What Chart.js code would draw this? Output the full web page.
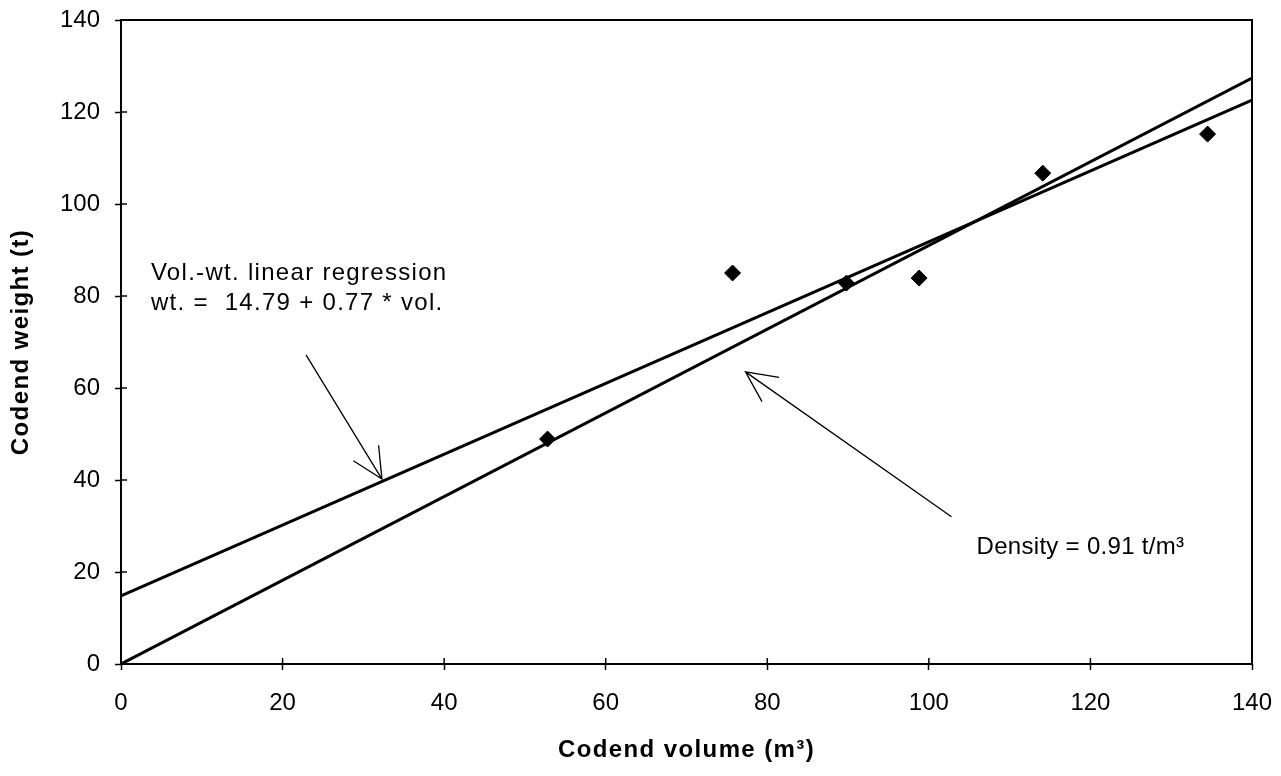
<!DOCTYPE html>
<html>
<head>
<meta charset="utf-8">
<script src="https://cdn.jsdelivr.net/npm/chart.js@4"></script>
<style>
  body { margin: 0; background: #fff; }
  canvas { display: block; }
</style>
</head>
<body>
<canvas id="chart" width="1281" height="776"></canvas>
<script>
// observed hauls
const volumes = [52.8, 75.7, 89.8, 98.8, 114.1, 134.5];
const weights = [48.9, 85.0, 82.8, 83.9, 106.7, 115.2];

// fitted lines (end points)
const regressionX = [0, 140];
const regressionY = [14.79, 122.6];
const densityX = [0, 140];
const densityY = [0, 127.4];

const tickValues = [0, 20, 40, 60, 80, 100, 120, 140];

const FONT = '"Liberation Sans", Arial, sans-serif';

function toPoints(xs, ys) {
    return xs.map((x, i) => ({ x: x, y: ys[i] }));
}

// text + arrows, in data units
const notes = {
    texts: [
        { x: 3.7, y: 85.0, text: 'Vol.-wt. linear regression', spacing: '1.3px' },
        { x: 3.7, y: 78.4, text: 'wt. =  14.79 + 0.77 * vol.', spacing: '1.3px' },
        { x: 105.9, y: 25.4, text: 'Density = 0.91 t/m³', spacing: '0.3px' }
    ],
    arrows: [
        { x1: 22.9, y1: 67.2, x2: 32.3, y2: 40.2 },
        { x1: 102.8, y1: 32.0, x2: 77.3, y2: 63.5 }
    ]
};

const xTitle = 'Codend volume (m³)';
const yTitle = 'Codend weight (t)';

const framePlugin = {
    id: 'frame',
    afterDatasetsDraw(chart) {
        const ctx = chart.ctx;
        const a = chart.chartArea;
        const xs = chart.scales.x, ys = chart.scales.y;
        ctx.save();
        ctx.strokeStyle = '#000';
        ctx.lineWidth = 2;
        ctx.strokeRect(a.left, a.top, a.right - a.left, a.bottom - a.top);
        // inner half of the crossing ticks
        ctx.lineWidth = 1.5;
        ctx.beginPath();
        tickValues.forEach(v => {
            const px = xs.getPixelForValue(v);
            ctx.moveTo(px, a.bottom);
            ctx.lineTo(px, a.bottom - 6);
            const py = ys.getPixelForValue(v);
            ctx.moveTo(a.left, py);
            ctx.lineTo(a.left + 6, py);
        });
        ctx.stroke();

        // arrows
        ctx.lineWidth = 1.3;
        notes.arrows.forEach(ar => {
            const x1 = xs.getPixelForValue(ar.x1), y1 = ys.getPixelForValue(ar.y1);
            const x2 = xs.getPixelForValue(ar.x2), y2 = ys.getPixelForValue(ar.y2);
            const ang = Math.atan2(y1 - y2, x1 - x2);
            const len = 34, spread = 0.45;
            ctx.beginPath();
            ctx.moveTo(x1, y1);
            ctx.lineTo(x2, y2);
            ctx.moveTo(x2 + len * Math.cos(ang - spread), y2 + len * Math.sin(ang - spread));
            ctx.lineTo(x2, y2);
            ctx.lineTo(x2 + len * Math.cos(ang + spread), y2 + len * Math.sin(ang + spread));
            ctx.stroke();
        });

        // labels
        ctx.fillStyle = '#000';
        ctx.font = '24px ' + FONT;
        ctx.textBaseline = 'middle';
        ctx.textAlign = 'left';
        notes.texts.forEach(t => {
            ctx.letterSpacing = t.spacing;
            ctx.fillText(t.text, xs.getPixelForValue(t.x), ys.getPixelForValue(t.y));
        });

        // axis titles
        ctx.font = 'bold 24px ' + FONT;
        ctx.letterSpacing = '1.4px';
        ctx.textAlign = 'center';
        ctx.fillText(xTitle, (a.left + a.right) / 2, 750);
        ctx.translate(21, (a.top + a.bottom) / 2);
        ctx.rotate(-Math.PI / 2);
        ctx.fillText(yTitle, 0, 0);
        ctx.restore();
    }
};

const axisCommon = {
    type: 'linear',
    min: 0,
    max: 140,
    border: { display: false },
    grid: {
        drawOnChartArea: false,
        drawTicks: true,
        tickLength: 6,
        tickWidth: 1.5,
        color: '#000'
    },
    ticks: {
        stepSize: 20,
        color: '#000',
        font: { family: FONT, size: 24 }
    }
};

function noOverflow(scale) {
    scale.paddingTop = 0;
    scale.paddingBottom = 0;
    scale.paddingLeft = 0;
    scale.paddingRight = 0;
}

new Chart(document.getElementById('chart').getContext('2d'), {
    type: 'scatter',
    data: {
        datasets: [
            {
                label: 'Vol.-wt. linear regression',
                data: toPoints(regressionX, regressionY),
                showLine: true,
                borderColor: '#000',
                borderWidth: 3,
                pointRadius: 0
            },
            {
                label: 'Density',
                data: toPoints(densityX, densityY),
                showLine: true,
                borderColor: '#000',
                borderWidth: 3,
                pointRadius: 0
            },
            {
                label: 'Hauls',
                data: toPoints(volumes, weights),
                pointStyle: 'rectRot',
                pointRadius: 8,
                backgroundColor: '#000',
                borderColor: '#000'
            }
        ]
    },
    options: {
        responsive: false,
        animation: false,
        layout: { padding: { top: 20, right: 29, left: 0, bottom: 0 } },
        plugins: {
            legend: { display: false },
            tooltip: { enabled: false }
        },
        scales: {
            x: Object.assign({}, axisCommon, {
                position: 'bottom',
                ticks: Object.assign({}, axisCommon.ticks, { padding: 19, maxRotation: 0 }),
                afterFit(scale) { scale.height = 112; noOverflow(scale); }
            }),
            y: Object.assign({}, axisCommon, {
                ticks: Object.assign({}, axisCommon.ticks, { padding: 15 }),
                afterFit(scale) { scale.width = 121; noOverflow(scale); }
            })
        }
    },
    plugins: [framePlugin]
});
</script>
</body>
</html>
